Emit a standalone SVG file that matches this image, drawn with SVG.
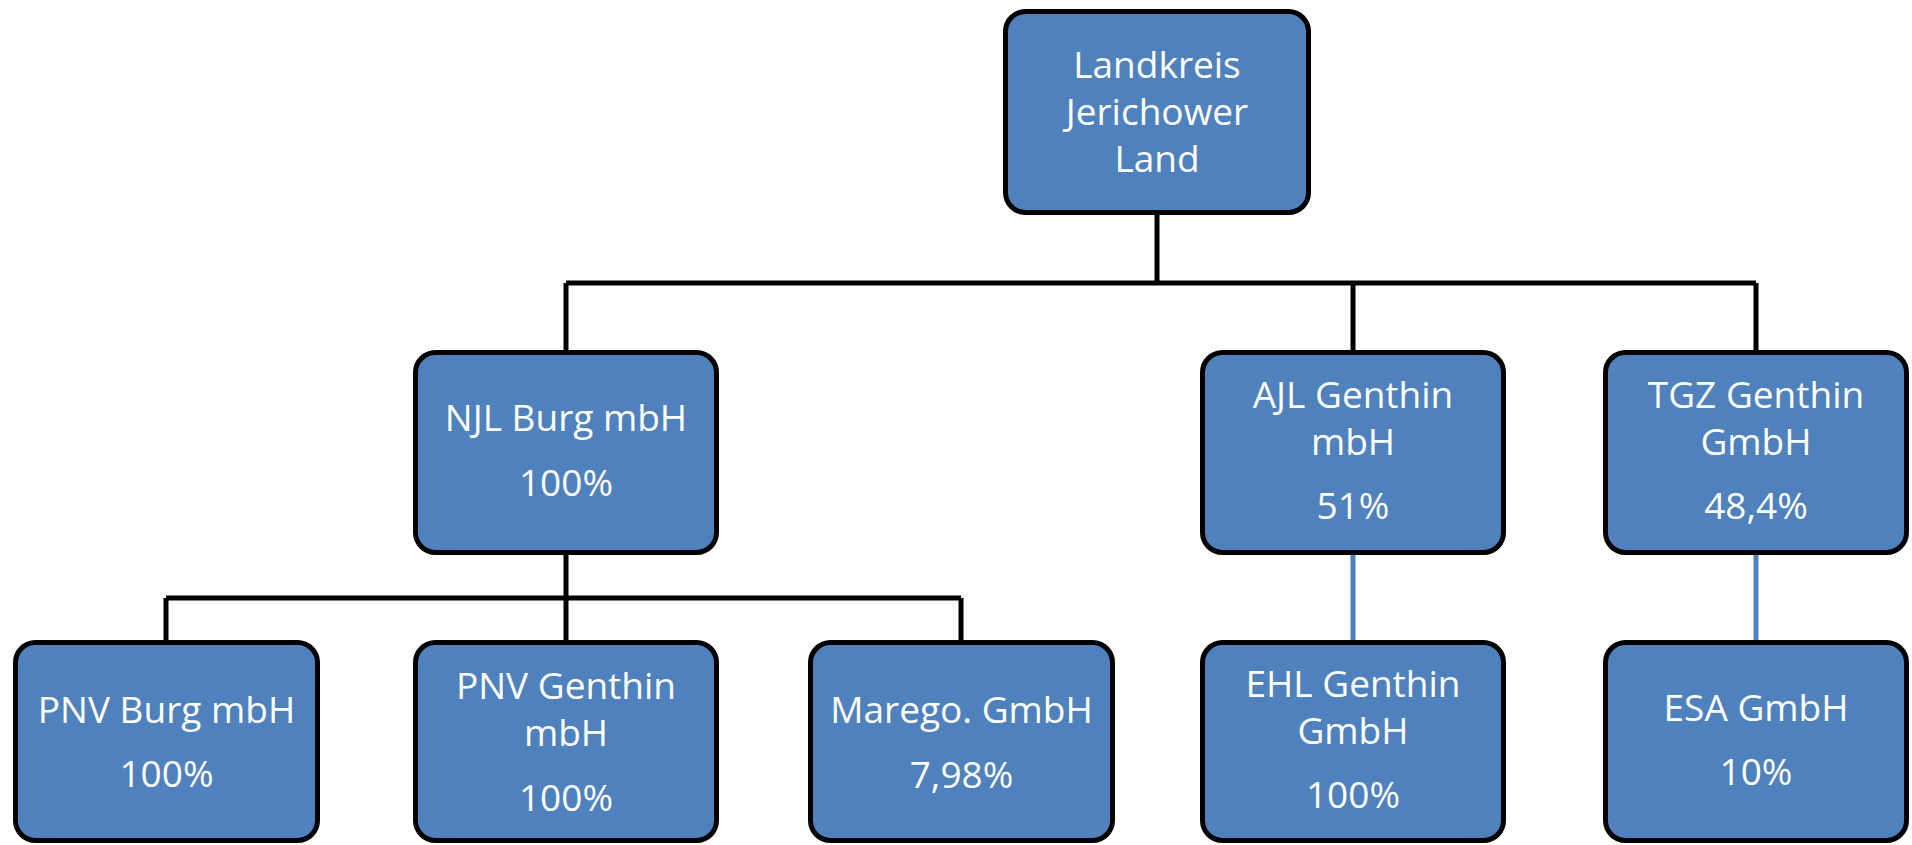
<svg xmlns="http://www.w3.org/2000/svg" width="1912" height="845" viewBox="0 0 1912 845">
<style>
.box{fill:#4F81BD;stroke:#000;stroke-width:5}
.t{fill:#fff;font-family:"Open Sans","Noto Sans",sans-serif;font-size:37px;text-anchor:middle}
.c{fill:none;stroke:#000;stroke-width:5}
.cb{fill:none;stroke:#4F81BD;stroke-width:5}
</style>
<rect width="1912" height="845" fill="#fff"/>
<g id="connectors">
<path class="c" d="M1157 215V283M566 283H1756M566 283V350M1353 283V350M1756 283V350"/>
<path class="c" d="M566 555V640M166 598H961M166 598V640M961 598V640"/>
<path class="cb" d="M1353 555V640M1756 555V640"/>
</g>
<g id="landkreis">
<rect class="box" x="1005.5" y="11.5" width="303" height="201" rx="20"/>
<text class="t" x="1157" y="78">Landkreis</text>
<text class="t" x="1157" y="125">Jerichower</text>
<text class="t" x="1157" y="172">Land</text>
</g>
<g id="njl">
<rect class="box" x="415.5" y="352.5" width="301" height="200" rx="20"/>
<text class="t" x="566" y="431">NJL Burg mbH</text>
<text class="t" x="566" y="496">100%</text>
</g>
<g id="ajl">
<rect class="box" x="1202.5" y="352.5" width="301" height="200" rx="20"/>
<text class="t" x="1353" y="408">AJL Genthin</text>
<text class="t" x="1353" y="455">mbH</text>
<text class="t" x="1353" y="519">51%</text>
</g>
<g id="tgz">
<rect class="box" x="1605.5" y="352.5" width="301" height="200" rx="20"/>
<text class="t" x="1756" y="408">TGZ Genthin</text>
<text class="t" x="1756" y="455">GmbH</text>
<text class="t" x="1756" y="519">48,4%</text>
</g>
<g id="pnv-burg">
<rect class="box" x="15.5" y="642.5" width="302" height="198" rx="20"/>
<text class="t" x="166.5" y="723">PNV Burg mbH</text>
<text class="t" x="166.5" y="787">100%</text>
</g>
<g id="pnv-genthin">
<rect class="box" x="415.5" y="642.5" width="301" height="198" rx="20"/>
<text class="t" x="566" y="699">PNV Genthin</text>
<text class="t" x="566" y="746">mbH</text>
<text class="t" x="566" y="811">100%</text>
</g>
<g id="marego">
<rect class="box" x="810.5" y="642.5" width="302" height="198" rx="20"/>
<text class="t" x="961.5" y="723">Marego. GmbH</text>
<text class="t" x="961.5" y="788">7,98%</text>
</g>
<g id="ehl">
<rect class="box" x="1202.5" y="642.5" width="301" height="198" rx="20"/>
<text class="t" x="1353" y="697">EHL Genthin</text>
<text class="t" x="1353" y="744">GmbH</text>
<text class="t" x="1353" y="808">100%</text>
</g>
<g id="esa">
<rect class="box" x="1605.5" y="642.5" width="301" height="198" rx="20"/>
<text class="t" x="1756" y="721">ESA GmbH</text>
<text class="t" x="1756" y="785">10%</text>
</g>
</svg>
